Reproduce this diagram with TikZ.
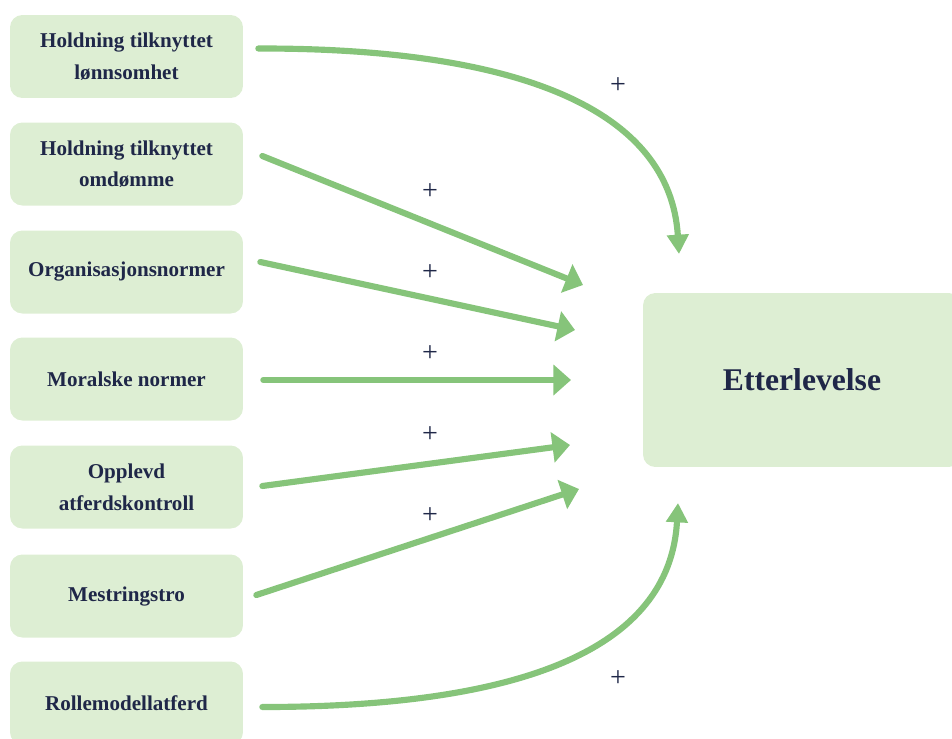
\documentclass[tikz,border=0pt]{standalone}
\usepackage{fontspec}
\setmainfont{Liberation Serif}
\usetikzlibrary{arrows.meta}
\definecolor{boxgreen}{HTML}{DDEED3}
\definecolor{arrowgreen}{HTML}{86C47A}
\definecolor{navy}{HTML}{1F2748}
\tikzset{
  factor/.style={fill=boxgreen, rounded corners=7pt, minimum width=4.66cm, minimum height=1.66cm,
    align=center, text=navy, font=\fontsize{12}{18}\selectfont\bfseries},
  effect/.style={draw=arrowgreen, line width=3.5pt, line cap=round,
    -{Triangle[length=10pt,width=17pt]}},
  bent/.style={effect, -{Triangle[length=11pt,width=12pt]}},
  sign/.style={text=navy, font=\fontsize{16}{16}\selectfont}
}
\begin{document}
\begin{tikzpicture}[x=0.02cm, y=-0.02cm]
\useasboundingbox (0,0) rectangle (952,738);
\clip (0,0) rectangle (952,738);
% factors
\node[factor] (h1) at (126.5,56.5) {Holdning tilknyttet\\lønnsomhet};
\node[factor] (h2) at (126.5,164) {Holdning tilknyttet\\omdømme};
\node[factor] (org) at (126.5,272) {Organisasjonsnormer};
\node[factor] (mor) at (126.5,379) {Moralske normer};
\node[factor] (opp) at (126.5,487) {Opplevd\\atferdskontroll};
\node[factor] (mes) at (126.5,596) {Mestringstro};
\node[factor] (rol) at (126.5,703) {Rollemodellatferd};
\node[factor, minimum width=6.36cm, minimum height=3.48cm, font=\fontsize{18}{20}\selectfont\bfseries] (ett) at (802,380) {Etterlevelse};
% arrow tips
\coordinate (t1) at (679,254);
\coordinate (t2) at (583,285);
\coordinate (t3) at (575,330);
\coordinate (t4) at (571,380);
\coordinate (t5) at (570,445);
\coordinate (t6) at (579,489);
\coordinate (t7) at (678,503);
% effects
\draw[bent] ([shift={(15,-8)}]h1.east) .. controls (520,48) and (670,110) .. (t1);
\draw[effect] ([shift={(19,-8)}]h2.east) -- (t2);
\draw[effect] ([shift={(17,-10)}]org.east) -- (t3);
\draw[effect] ([shift={(20,1)}]mor.east) -- (t4);
\draw[effect] ([shift={(19,-1)}]opp.east) -- (t5);
\draw[effect] ([shift={(13,-1)}]mes.east) -- (t6);
\draw[bent] ([shift={(19,4)}]rol.east) .. controls (520,707) and (670,650) .. (t7);
% signs
\node[sign] (s1) at (618,86) {+};
\node[sign] (s2) at (430,192) {+};
\node[sign] (s3) at (430,273) {+};
\node[sign] (s4) at (430,354) {+};
\node[sign] (s5) at (430,435) {+};
\node[sign] (s6) at (430,516) {+};
\node[sign] (s7) at (618,679) {+};
\end{tikzpicture}
\end{document}
